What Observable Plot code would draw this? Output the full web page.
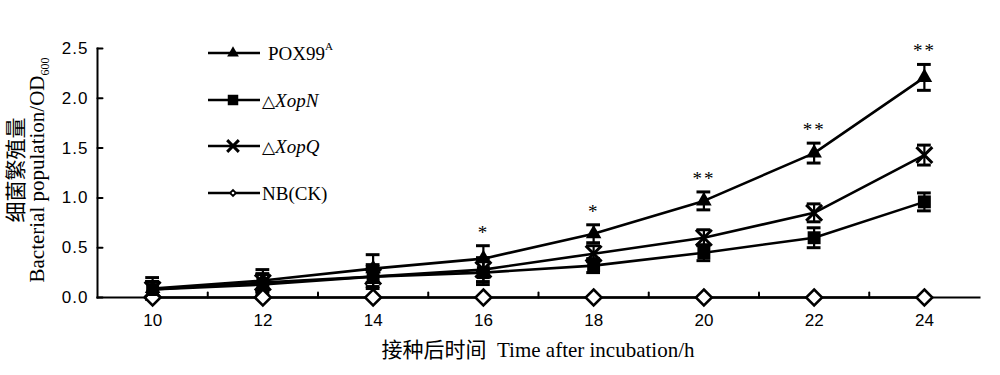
<!DOCTYPE html>
<html><head><meta charset="utf-8">
<script src="https://cdn.jsdelivr.net/npm/d3@7"></script>
<script src="https://cdn.jsdelivr.net/npm/@observablehq/plot@0.6"></script>
<style>
body{margin:0;background:#fff;}
#chart{position:relative;width:1000px;height:375px;}
.sig text{letter-spacing:2px;}
.yax text{letter-spacing:1px;}
</style></head><body><div id="chart"></div>
<script>
// ---- data ----
const hours = [10, 12, 14, 16, 18, 20, 22, 24];
const pox = [0.09, 0.17, 0.29, 0.39, 0.64, 0.97, 1.45, 2.21];
const poxErr = [0.11, 0.11, 0.14, 0.13, 0.09, 0.09, 0.10, 0.13];
const xopN = [0.08, 0.13, 0.21, 0.25, 0.32, 0.45, 0.60, 0.96];
const xopNErr = [0.08, 0.10, 0.12, 0.12, 0.07, 0.08, 0.10, 0.09];
const xopQ = [0.08, 0.15, 0.21, 0.28, 0.44, 0.60, 0.85, 1.43];
const xopQErr = [0.08, 0.09, 0.10, 0.12, 0.08, 0.08, 0.09, 0.10];
const nb = [0, 0, 0, 0, 0, 0, 0, 0];
const nbErr = [0, 0, 0, 0, 0, 0, 0, 0];
const sig = ["", "", "", "*", "*", "**", "**", "**"];
const yTicks = [0, 0.5, 1.0, 1.5, 2.0, 2.5];
const minorTicks = [11, 13, 15, 17, 19, 21, 23];
const seriesNames = ["POX99A", "XopN", "XopQ", "NB(CK)"];
const xLabel = "接种后时间  Time after incubation/h";
const yLabelCN = "细菌繁殖量";
const yLabelEN = "Bacterial population/OD";

const series = [
  {name: seriesNames[0], v: pox, e: poxErr},
  {name: seriesNames[1], v: xopN, e: xopNErr},
  {name: seriesNames[2], v: xopQ, e: xopQErr},
  {name: seriesNames[3], v: nb, e: nbErr}
];
const rows = series.flatMap(s => hours.map((t, i) => ({series: s.name, t, v: s.v[i], err: s.e[i]})));
const errRows = rows.filter(d => d.err > 0);
const sigRows = hours.map((t, i) => ({t, label: sig[i], top: pox[i] + poxErr[i]})).filter(d => d.label);
const bySeries = n => rows.filter(d => d.series === n);

const tickShape = {draw(ctx, l) { ctx.moveTo(0, 0); ctx.lineTo(0, -l); }};
const capHalf = 0.125;

const plot = Plot.plot({
  width: 1000, height: 375,
  marginLeft: 97, marginRight: 21, marginTop: 48, marginBottom: 78,
  style: {fontFamily: "'Liberation Sans', Arial, sans-serif", background: "white", color: "black"},
  x: {domain: [9, 25]},
  y: {domain: [0, 2.5]},
  marks: [
    Plot.frame({anchor: "left", strokeWidth: 2}),
    Plot.frame({anchor: "bottom", strokeWidth: 2}),
    Plot.vector(yTicks, {y: d => d, frameAnchor: "left", length: 5, rotate: 90, anchor: "start", shape: tickShape, strokeWidth: 2}),
    Plot.vector(minorTicks, {x: d => d, frameAnchor: "bottom", length: 5, rotate: 0, anchor: "start", shape: tickShape, strokeWidth: 2}),
    Plot.axisY({ticks: yTicks, tickSize: 0, tickPadding: 9, tickFormat: d3.format(".1f"), fontSize: 17, label: null, className: "yax"}),
    Plot.axisX({ticks: hours, tickSize: 0, tickPadding: 16, fontSize: 17, label: null}),
    Plot.line(rows, {x: "t", y: "v", z: "series", stroke: "black", strokeWidth: 2.6}),
    Plot.ruleX(errRows, {x: "t", y1: d => d.v - d.err, y2: d => d.v + d.err, strokeWidth: 2.2}),
    Plot.ruleY(errRows, {y: d => d.v + d.err, x1: d => d.t - capHalf, x2: d => d.t + capHalf, strokeWidth: 3}),
    Plot.ruleY(errRows, {y: d => d.v - d.err, x1: d => d.t - capHalf, x2: d => d.t + capHalf, strokeWidth: 3}),
    Plot.dot(bySeries(seriesNames[3]), {x: "t", y: "v", symbol: "diamond2", r: 7.2, fill: "white", stroke: "black", strokeWidth: 2.5}),
    Plot.dot(bySeries(seriesNames[1]), {x: "t", y: "v", symbol: "square", r: 7.3, fill: "black"}),
    Plot.dot(bySeries(seriesNames[2]), {x: "t", y: "v", symbol: "times", r: 7.3, stroke: "black", strokeWidth: 3}),
    Plot.dot(bySeries(seriesNames[0]), {x: "t", y: "v", symbol: "triangle", r: 5.8, fill: "black"}),
    Plot.text(sigRows, {x: "t", y: "top", text: "label", dy: -7, lineAnchor: "bottom", fontSize: 19, fill: "black", fontFamily: "'Liberation Serif', serif", className: "sig"})
  ]
});
document.getElementById("chart").appendChild(plot);

// ---- axis titles & legend ----
const svg = d3.select(plot);
const serif = "'Liberation Serif', 'Times New Roman', 'Noto Sans CJK SC', serif";
svg.append("text")
  .attr("transform", "translate(23,170) rotate(-90)")
  .attr("text-anchor", "middle").attr("font-family", serif).attr("font-size", 21)
  .text(yLabelCN);
const yl = svg.append("text")
  .attr("transform", "translate(44,170) rotate(-90)")
  .attr("text-anchor", "middle").attr("font-family", serif).attr("font-size", 21);
yl.append("tspan").text(yLabelEN);
yl.append("tspan").attr("font-size", 12).attr("dy", 5).text("600");
svg.append("text")
  .attr("x", 538).attr("y", 357)
  .attr("text-anchor", "middle").attr("font-family", serif).attr("font-size", 21)
  .attr("xml:space", "preserve")
  .text(xLabel);

const legend = [
  {sym: d3.symbolTriangle, size: 60, fill: "black", stroke: "none", y: 53},
  {sym: d3.symbolSquare, size: 110, fill: "black", stroke: "none", y: 100},
  {sym: d3.symbolTimes, size: 90, fill: "none", stroke: "black", y: 146},
  {sym: d3.symbolDiamond2, size: 45, fill: "black", stroke: "none", y: 193}
];
const lg = svg.append("g").attr("font-family", serif).attr("font-size", 19).attr("text-anchor", "start");
legend.forEach((it, i) => {
  lg.append("line").attr("x1", 208).attr("x2", 260).attr("y1", it.y).attr("y2", it.y).attr("stroke", "black").attr("stroke-width", 2.4);
  lg.append("path").attr("d", d3.symbol(it.sym, it.size)()).attr("transform", `translate(233,${it.y})`)
    .attr("fill", it.fill).attr("stroke", it.stroke).attr("stroke-width", 3);
  const t = lg.append("text").attr("x", i === 0 ? 268 : 262).attr("y", it.y).attr("dy", "0.35em");
  if (i === 0) {
    t.append("tspan").text("POX99");
    t.append("tspan").attr("font-size", 11).attr("dy", "-0.9em").text("A");
  } else if (i === 3) {
    t.text(seriesNames[3]);
  } else {
    t.append("tspan").attr("font-family", "'DejaVu Sans', sans-serif").attr("font-size", 17).text("△");
    t.append("tspan").attr("font-style", "italic").text(seriesNames[i]);
  }
});
lg.append("circle").attr("cx", 233).attr("cy", 193).attr("r", 1.3).attr("fill", "white");
</script></body></html>
